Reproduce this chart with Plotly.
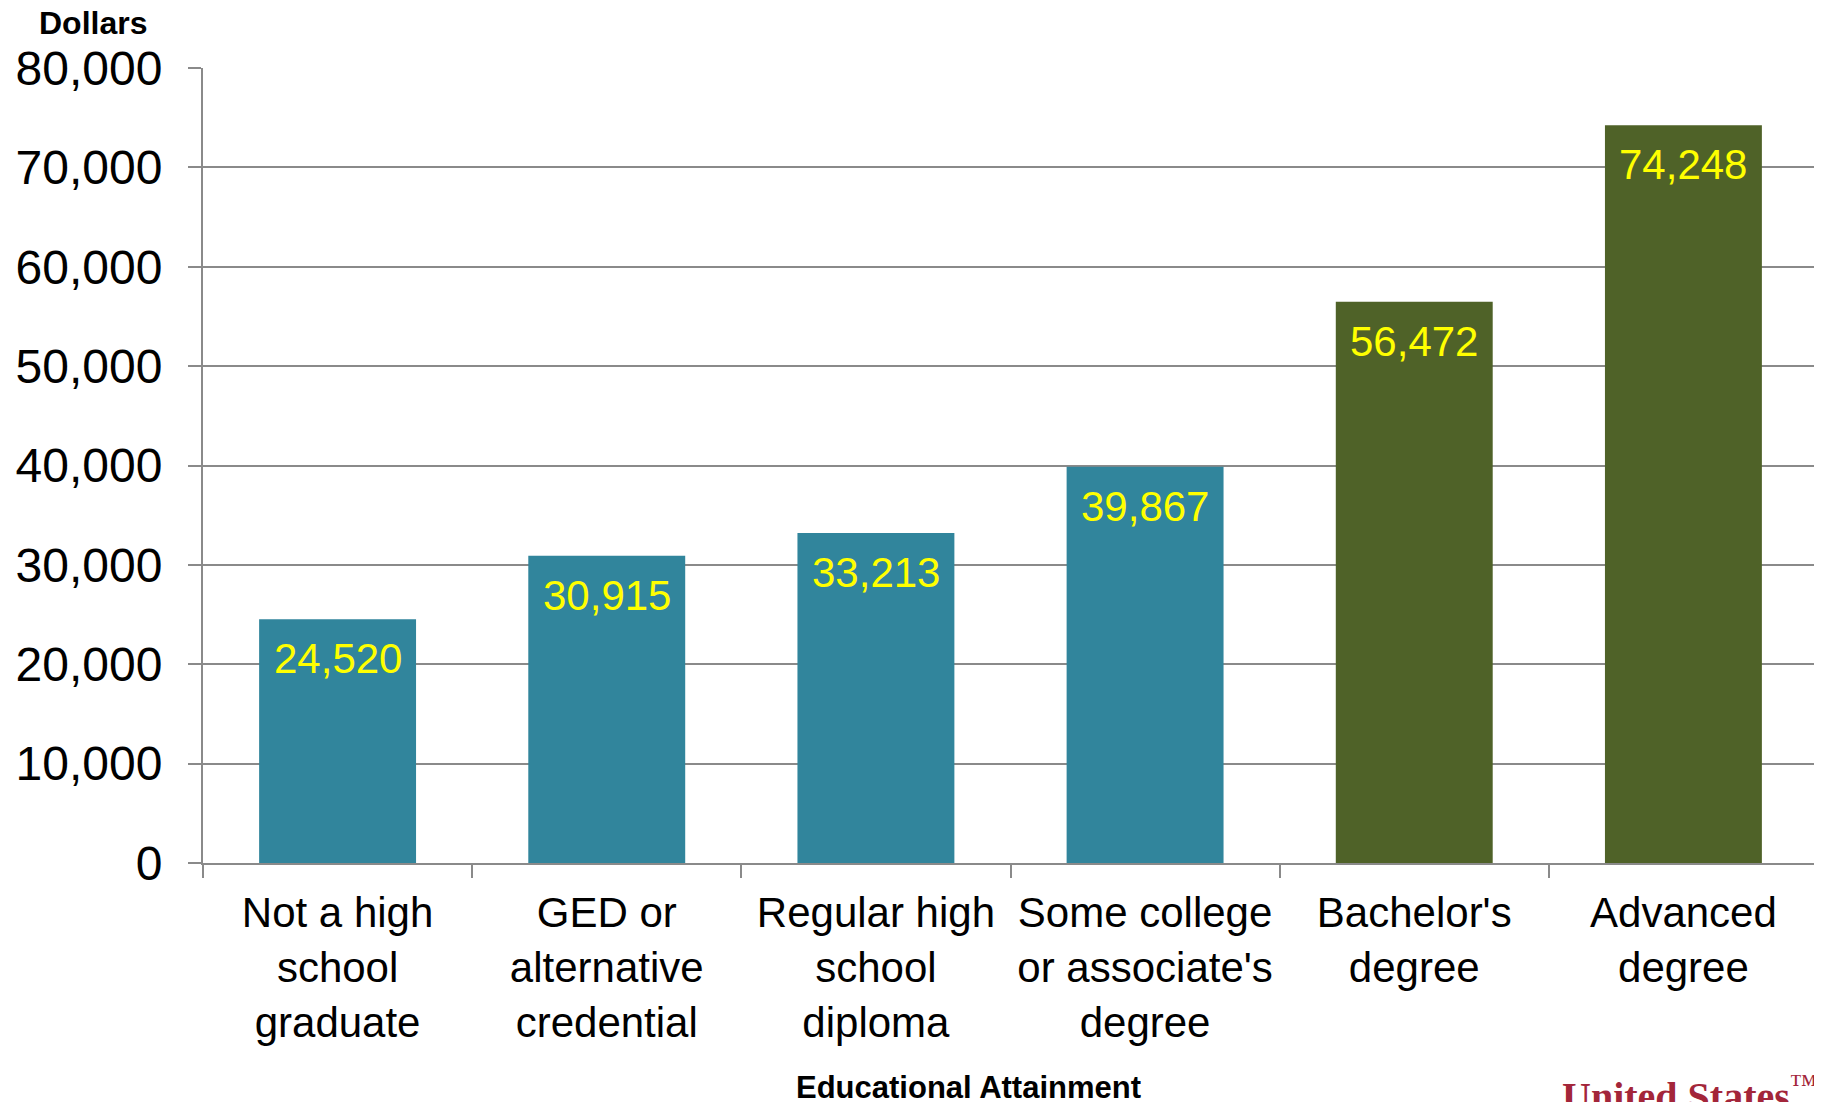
import plotly.graph_objects as go

categories = [
    "Not a high<br>school<br>graduate",
    "GED or<br>alternative<br>credential",
    "Regular high<br>school<br>diploma",
    "Some college<br>or associate's<br>degree",
    "Bachelor's<br>degree",
    "Advanced<br>degree",
]
earnings = [24520, 30915, 33213, 39867, 56472, 74248]
bar_colors = ["#31859C", "#31859C", "#31859C", "#31859C", "#4F6228", "#4F6228"]
y_ticks = [0, 10000, 20000, 30000, 40000, 50000, 60000, 70000, 80000]

FONT = "Liberation Sans, Arial, sans-serif"
GRID = "#8a8a8a"

fig = go.Figure()
fig.add_trace(go.Bar(
    x=categories,
    y=earnings,
    marker=dict(color=bar_colors, line=dict(width=0)),
    hoverinfo="x+y",
))

for c, v in zip(categories, earnings):
    fig.add_annotation(
        x=c, y=v, xref="x", yref="y",
        text=f"{v:,}", showarrow=False,
        yanchor="top", yshift=-14,
        font=dict(family=FONT, size=42, color="#FFFF00"),
    )

fig.add_annotation(
    x=-0.0681, y=1.0566, xref="paper", yref="paper",
    text="<b>Dollars</b>", showarrow=False,
    xanchor="center", yanchor="middle",
    font=dict(family=FONT, size=32, color="black"),
)
fig.add_annotation(
    x=0.4737, y=-0.2822, xref="paper", yref="paper",
    text="<b>Educational Attainment</b>", showarrow=False,
    xanchor="center", yanchor="middle",
    font=dict(family=FONT, size=31, color="black"),
)
fig.add_annotation(
    x=0.8402, y=-0.2557, xref="paper", yref="paper",
    text="<b>United States</b><sup>™</sup>", showarrow=False,
    xanchor="left", yanchor="top",
    font=dict(family="Liberation Serif, DejaVu Serif, serif", size=40, color="#A3263A"),
)

# page body has an 8px margin, so figure is sized to fit the window
fig.update_layout(
    width=1814, height=1094, autosize=False,
    margin=dict(l=195, r=4, t=60, b=239),
    paper_bgcolor="white", plot_bgcolor="white",
    bargap=0.417,
    showlegend=False,
    font=dict(family=FONT, color="black"),
)
fig.update_xaxes(
    showline=True, linecolor=GRID, linewidth=2,
    ticks="outside", tickson="boundaries", ticklen=13, tickcolor=GRID, tickwidth=2,
    tickfont=dict(family=FONT, size=42, color="black"),
    ticklabelstandoff=12,
    showgrid=False, zeroline=False,
)
fig.update_yaxes(
    range=[0, 80000], tickvals=y_ticks, tickformat=",d",
    showline=True, linecolor=GRID, linewidth=2,
    ticks="outside", ticklen=13, tickcolor=GRID, tickwidth=2,
    tickfont=dict(family=FONT, size=48, color="black"),
    ticklabelstandoff=16,
    showgrid=True, gridcolor=GRID, gridwidth=2,
    zeroline=False,
)

fig.write_html("out.html")
